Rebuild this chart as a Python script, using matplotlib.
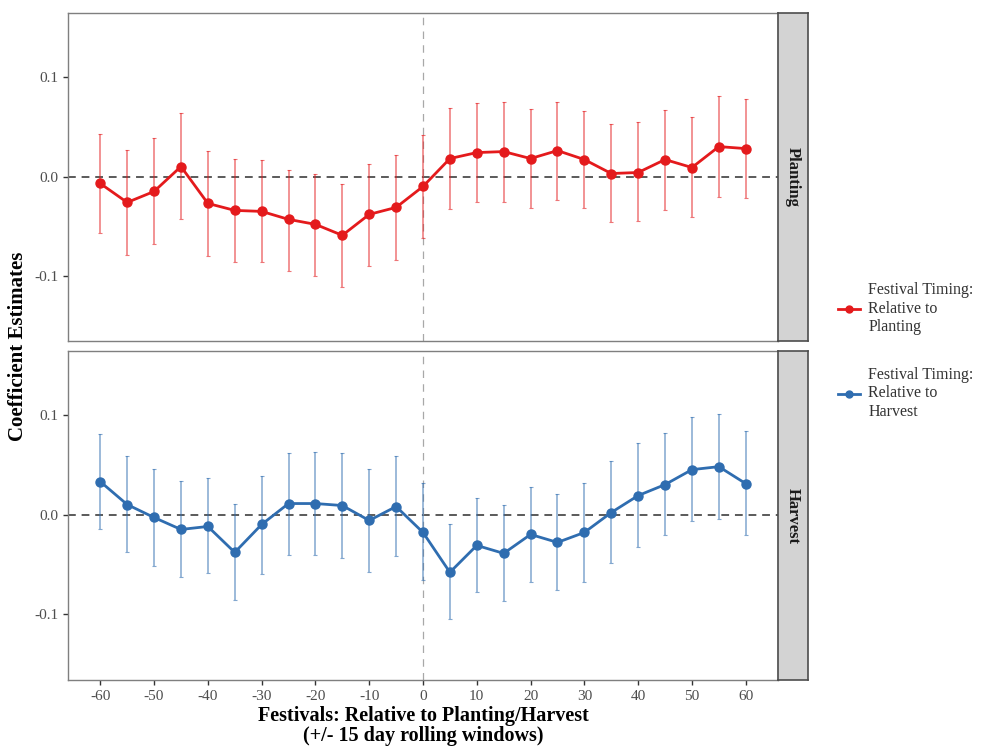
import numpy as np
import matplotlib
matplotlib.use("Agg")
import matplotlib.pyplot as plt
from matplotlib.lines import Line2D

plt.rcParams['font.family'] = ['Liberation Serif', 'DejaVu Serif']
plt.rcParams['axes.unicode_minus'] = False

# festival window offsets (days relative to planting / harvest)
offsets = [-60, -55, -50, -45, -40, -35, -30, -25, -20, -15, -10, -5, 0,
           5, 10, 15, 20, 25, 30, 35, 40, 45, 50, 55, 60]

# Planting panel
plant_est = [-0.007, -0.026, -0.015, 0.010, -0.027, -0.034, -0.035, -0.043, -0.048, -0.059, -0.038, -0.031, -0.010,
             0.018, 0.024, 0.025, 0.018, 0.026, 0.017, 0.003, 0.004, 0.017, 0.009, 0.030, 0.028]
plant_hi = [0.043, 0.027, 0.039, 0.064, 0.026, 0.018, 0.017, 0.007, 0.003, -0.008, 0.013, 0.022, 0.042,
            0.069, 0.074, 0.075, 0.068, 0.075, 0.066, 0.053, 0.055, 0.067, 0.060, 0.081, 0.078]
plant_lo = [-0.057, -0.079, -0.068, -0.043, -0.080, -0.086, -0.086, -0.095, -0.100, -0.111, -0.090, -0.084, -0.062,
            -0.033, -0.026, -0.026, -0.032, -0.024, -0.032, -0.046, -0.045, -0.034, -0.041, -0.021, -0.022]

# Harvest panel
harv_est = [0.033, 0.010, -0.003, -0.015, -0.012, -0.038, -0.010, 0.011, 0.011, 0.009, -0.006, 0.008, -0.018,
            -0.058, -0.031, -0.039, -0.020, -0.028, -0.018, 0.002, 0.019, 0.030, 0.045, 0.048, 0.031]
harv_hi = [0.081, 0.059, 0.046, 0.034, 0.037, 0.011, 0.039, 0.062, 0.063, 0.062, 0.046, 0.059, 0.032,
           -0.010, 0.017, 0.010, 0.028, 0.021, 0.032, 0.054, 0.072, 0.082, 0.098, 0.101, 0.084]
harv_lo = [-0.015, -0.038, -0.052, -0.063, -0.059, -0.086, -0.060, -0.041, -0.041, -0.044, -0.058, -0.042, -0.066,
           -0.105, -0.078, -0.087, -0.068, -0.076, -0.068, -0.049, -0.033, -0.021, -0.007, -0.005, -0.021]

red = '#E41A1C'
blue = '#2F6DB0'
axis_grey = '#7f7f7f'
txt_grey = '#4d4d4d'

fig = plt.figure(figsize=(9.89, 7.46), dpi=100)

W, H = 989.0, 746.0
def box(x0, y0, x1, y1):
    return [x0 / W, 1 - y1 / H, (x1 - x0) / W, (y1 - y0) / H]

panels = [
    ('Planting', plant_est, plant_lo, plant_hi, red, (13, 341), (-0.165, 0.164)),
    ('Harvest', harv_est, harv_lo, harv_hi, blue, (351, 680), (-0.166, 0.164)),
]

for i, (name, est, lo, hi, col, (ytop, ybot), ylim) in enumerate(panels):
    ax = fig.add_axes(box(68, ytop, 778, ybot))
    x = np.array(offsets)
    est = np.array(est)
    err = [est - np.array(lo), np.array(hi) - est]
    ax.axhline(0, color='#5a5a5a', ls=(0, (4, 3)), lw=1.4, zorder=1)
    ax.axvline(0, color='#a8a8a8', ls=(0, (6, 5)), lw=0.9, zorder=1)
    ax.errorbar(x, est, yerr=err, fmt='none', ecolor=col, alpha=0.6,
                elinewidth=1.1, capsize=1.5, capthick=0.8, zorder=2)
    ax.plot(x, est, color=col, lw=2.0, marker='o', ms=6.5, zorder=3)
    ax.set_xlim(-66, 66)
    ax.set_ylim(*ylim)
    ax.set_yticks([-0.1, 0.0, 0.1])
    ax.set_yticklabels(['-0.1', '0.0', '0.1'])
    ax.set_xticks(np.arange(-60, 61, 10))
    for s in ax.spines.values():
        s.set_color(axis_grey)
        s.set_linewidth(1.0)
    ax.tick_params(axis='both', colors='#333333', labelcolor=txt_grey,
                   labelsize=11, length=3.5, width=1.0)
    if i == 0:
        ax.tick_params(axis='x', bottom=False, labelbottom=False)

    # facet strip on the right
    sax = fig.add_axes(box(778, ytop, 808, ybot))
    sax.set_xticks([])
    sax.set_yticks([])
    sax.set_facecolor('#d3d3d3')
    for s in sax.spines.values():
        s.set_color('#4d4d4d')
        s.set_linewidth(1.2)
    sax.text(0.5, 0.5, name, rotation=270, ha='center', va='center',
             fontsize=12, fontweight='bold', color='#1a1a1a', transform=sax.transAxes)

fig.text(18 / W, 1 - 346 / H, 'Coefficient Estimates', rotation=90,
         ha='center', va='center', fontsize=15, fontweight='bold')
fig.text(423 / W, 1 - 716 / H, 'Festivals: Relative to Planting/Harvest',
         ha='center', va='center', fontsize=14.5, fontweight='bold')
fig.text(423 / W, 1 - 736 / H, '(+/- 15 day rolling windows)',
         ha='center', va='center', fontsize=14.5, fontweight='bold')

handles = [
    Line2D([], [], color=red, lw=2, marker='o', ms=5),
    Line2D([], [], color=blue, lw=2, marker='o', ms=5),
]
labels = ['Festival Timing:\nRelative to\nPlanting', 'Festival Timing:\nRelative to\nHarvest']
fig.legend(handles, labels, loc='center left', bbox_to_anchor=(838 / W, 1 - 351 / H),
           frameon=False, fontsize=11.5, labelcolor='#333333', handlelength=1.4,
           handletextpad=0.5, labelspacing=2.0, borderpad=0, borderaxespad=0)

fig.savefig('out.png', dpi=100)
